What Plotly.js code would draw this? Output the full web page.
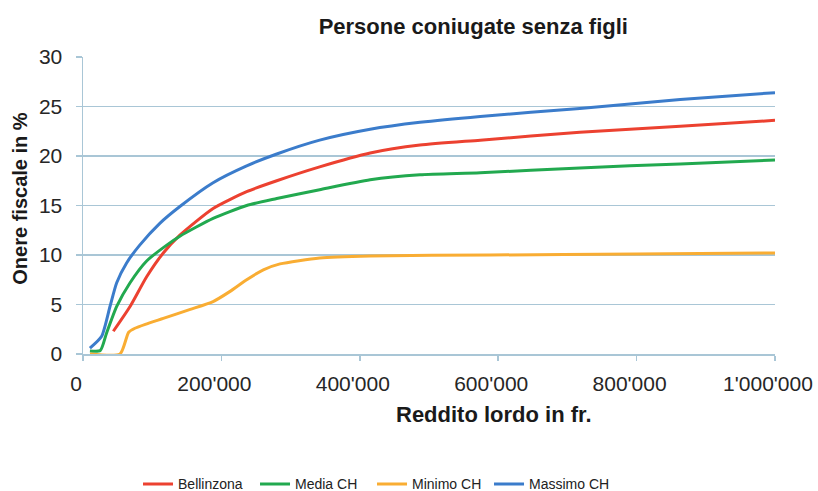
<!DOCTYPE html>
<html>
<head>
<meta charset="utf-8">
<script src="https://cdn.plot.ly/plotly-3.0.1.min.js"></script>
<style>html,body{margin:0;padding:0;background:#fff;}#chart{width:818px;height:491px;}</style>
</head>
<body>
<div id="chart"></div>
<script>
// Reddito lordo (fr.) and onere fiscale (%)
var seriesNames = ["Bellinzona", "Media CH", "Minimo CH", "Massimo CH"];

var xBellinzona = [43800, 68000, 92000, 116000, 140000, 188000, 236500, 280000, 342000, 415000, 487000, 574000, 718000, 863000, 1000000];
var yBellinzona = [2.3, 4.8, 7.8, 10.2, 12.0, 14.7, 16.4, 17.5, 18.9, 20.3, 21.1, 21.6, 22.4, 23.0, 23.6];

var xMedia = [10000, 25000, 34000, 48700, 68000, 92000, 121000, 140000, 188000, 236500, 280000, 342000, 415000, 487000, 574000, 718000, 863000, 1000000];
var yMedia = [0.3, 0.35, 2.1, 4.8, 7.2, 9.4, 11.0, 11.9, 13.7, 15.0, 15.7, 16.6, 17.6, 18.1, 18.3, 18.8, 19.2, 19.6];

var xMinimo = [10000, 53500, 66000, 75000, 90000, 116000, 155000, 188000, 212000, 236500, 260600, 284700, 342000, 415000, 588000, 800000, 1000000];
var yMinimo = [0, 0, 2.2, 2.6, 3.0, 3.6, 4.5, 5.3, 6.3, 7.5, 8.5, 9.1, 9.7, 9.9, 10.0, 10.1, 10.2];

var xMassimo = [10000, 27000, 39000, 48700, 63000, 82000, 111000, 140000, 188000, 236500, 280000, 342000, 415000, 487000, 574000, 718000, 863000, 1000000];
var yMassimo = [0.6, 1.8, 4.8, 7.2, 9.2, 11.0, 13.2, 14.9, 17.3, 19.0, 20.2, 21.6, 22.7, 23.4, 24.0, 24.8, 25.7, 26.4];

var xTickVals = [0, 200000, 400000, 600000, 800000, 1000000];
var xTickText = ["0", "200'000", "400'000", "600'000", "800'000", "1'000'000"];

var colors = ["#EC4130", "#22A94F", "#F9AD33", "#3B7CCB"];

var FONT = "Liberation Sans, Arial, Helvetica, sans-serif";
var GRID = "#A9C6D6";

function tr(x, y, i) {
  return {x: x, y: y, name: seriesNames[i], type: "scatter", mode: "lines",
          line: {color: colors[i], width: 3, shape: "spline", smoothing: 0.6},
          hoverinfo: "skip"};
}

var data = [tr(xBellinzona, yBellinzona, 0), tr(xMedia, yMedia, 1), tr(xMinimo, yMinimo, 2), tr(xMassimo, yMassimo, 3),
  // blank spacer legend entry so the last legend label is not clipped
  {x: [null], y: [null], name: "\u00a0", type: "scatter", mode: "lines", showlegend: true,
   line: {color: "rgba(0,0,0,0)", width: 1}, hoverinfo: "skip"}];

var layout = {
  width: 818, height: 491,
  margin: {l: 83, r: 43, t: 57, b: 137, autoexpand: false},
  paper_bgcolor: "#ffffff", plot_bgcolor: "#ffffff",
  font: {family: FONT, color: "#222222"},
  title: {text: "Persone coniugate senza figli", font: {family: FONT, size: 22, color: "#1a1a1a", weight: "bold"},
          xref: "paper", x: 0.564, xanchor: "center", yref: "container", y: 0.947, yanchor: "middle"},
  xaxis: {range: [0, 1000000], tickvals: xTickVals, ticktext: xTickText,
          showgrid: false, zeroline: false, showline: true, linecolor: GRID, linewidth: 1.5,
          ticks: "outside", ticklen: 5, tickcolor: GRID, tickwidth: 1.5, ticklabelstandoff: 5,
          ticklabelshift: -7,
          tickfont: {family: FONT, size: 21, color: "#262626"}, fixedrange: true},
  yaxis: {range: [0, 30], dtick: 5, tick0: 0,
          showgrid: true, gridcolor: GRID, gridwidth: 1.5, zeroline: false,
          showline: true, linecolor: GRID, linewidth: 1.5,
          ticks: "outside", ticklen: 6, tickcolor: GRID, tickwidth: 1.5, ticklabelstandoff: 9,
          tickfont: {family: FONT, size: 21, color: "#262626"}, fixedrange: true},
  showlegend: true,
  legend: {orientation: "h", x: 0.0795, xanchor: "left", y: -0.4387, yanchor: "middle",
           font: {family: FONT, size: 14, color: "#222222"},
           entrywidth: 72, entrywidthmode: "pixels", bgcolor: "rgba(0,0,0,0)"},
  annotations: [
    {text: "Reddito lordo in fr.", xref: "paper", yref: "paper", x: 0.594, y: -0.203,
     xanchor: "center", yanchor: "middle", showarrow: false,
     font: {family: FONT, size: 22, color: "#1a1a1a", weight: "bold"}},
    {text: "Onere fiscale in %", xref: "paper", yref: "paper", x: -0.091, y: 0.523,
     xanchor: "center", yanchor: "middle", showarrow: false, textangle: -90,
     font: {family: FONT, size: 20, color: "#1a1a1a", weight: "bold"}}
  ]
};

Plotly.newPlot("chart", data, layout, {displayModeBar: false, staticPlot: true});
</script>
</body>
</html>
